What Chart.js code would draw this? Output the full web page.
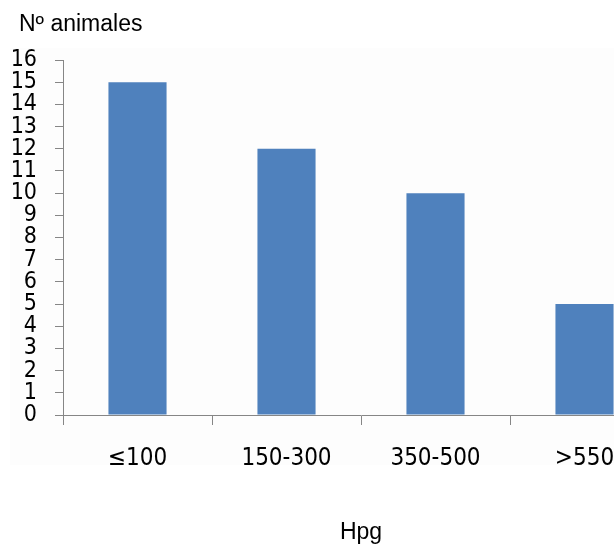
<!DOCTYPE html>
<html lang="es">
<head>
    <meta charset="UTF-8">
    <title>Nº animales por Hpg</title>
    <script src="https://cdn.jsdelivr.net/npm/chart.js"></script>
    <style>
        html, body {
            margin: 0;
            padding: 0;
            background: white;
            overflow: hidden;
            width: 614px;
            height: 549px;
        }
        #wrap {
            width: 680px;
            height: 549px;
        }
    </style>
</head>
<body>
    <div id="wrap">
        <canvas id="hpgChart" width="680" height="549"></canvas>
    </div>

    <script>
        const categories = ['≤100', '150-300', '350-500', '>550'];
        const animales = [15, 12, 10, 5];
        const yTicks = [0, 1, 2, 3, 4, 5, 6, 7, 8, 9, 10, 11, 12, 13, 14, 15, 16];

        const yTitle = 'Nº animales';
        const xTitle = 'Hpg';

        // very light panel behind the plot, plus the y title in the top-left corner
        const decor = {
            id: 'decor',
            beforeDraw(chart) {
                const c = chart.ctx;
                c.save();
                c.fillStyle = '#fdfdfd';
                c.fillRect(10, 48, 670, 417);
                c.restore();
            },
            afterDraw(chart) {
                const c = chart.ctx;
                c.save();
                c.fillStyle = '#000';
                c.font = '23px "Liberation Sans", Arial, sans-serif';
                c.textBaseline = 'alphabetic';
                c.textAlign = 'left';
                c.fillText(yTitle, 19, 31);
                c.restore();
            }
        };

        const ctx = document.getElementById('hpgChart').getContext('2d');

        new Chart(ctx, {
            type: 'bar',
            data: {
                labels: categories,
                datasets: [{
                    data: animales,
                    backgroundColor: '#4f81bd',
                    borderWidth: 0,
                    barPercentage: 0.39,
                    categoryPercentage: 1
                }]
            },
            options: {
                responsive: false,
                animation: false,
                layout: {
                    padding: { top: 60, right: 21, left: 0, bottom: 0 }
                },
                plugins: {
                    legend: { display: false },
                    tooltip: { enabled: false }
                },
                scales: {
                    x: {
                        offset: true,
                        grid: {
                            offset: true,
                            drawOnChartArea: false,
                            tickLength: 10,
                            color: '#868686'
                        },
                        border: { color: '#868686', width: 1 },
                        ticks: {
                            color: '#000',
                            padding: 19,
                            maxRotation: 0,
                            autoSkip: false,
                            font: { family: '"DejaVu Sans Condensed", "DejaVu Sans", sans-serif', size: 24 }
                        },
                        title: {
                            display: true,
                            text: xTitle,
                            color: '#000',
                            padding: { top: 0, bottom: 3 },
                            font: { family: '"Liberation Sans", Arial, sans-serif', size: 23 }
                        },
                        afterFit(scale) { scale.height = 134; }
                    },
                    y: {
                        min: 0,
                        max: 16,
                        grid: {
                            drawOnChartArea: false,
                            tickLength: 8,
                            color: '#868686'
                        },
                        border: { color: '#868686', width: 1 },
                        ticks: {
                            color: '#000',
                            padding: 18,
                            autoSkip: false,
                            font: { family: '"DejaVu Sans Condensed", "DejaVu Sans", sans-serif', size: 23, lineHeight: 1 }
                        },
                        afterBuildTicks(scale) {
                            scale.ticks = yTicks.map(v => ({ value: v }));
                        },
                        afterFit(scale) { scale.width = 63; }
                    }
                }
            },
            plugins: [decor]
        });
    </script>
</body>
</html>
